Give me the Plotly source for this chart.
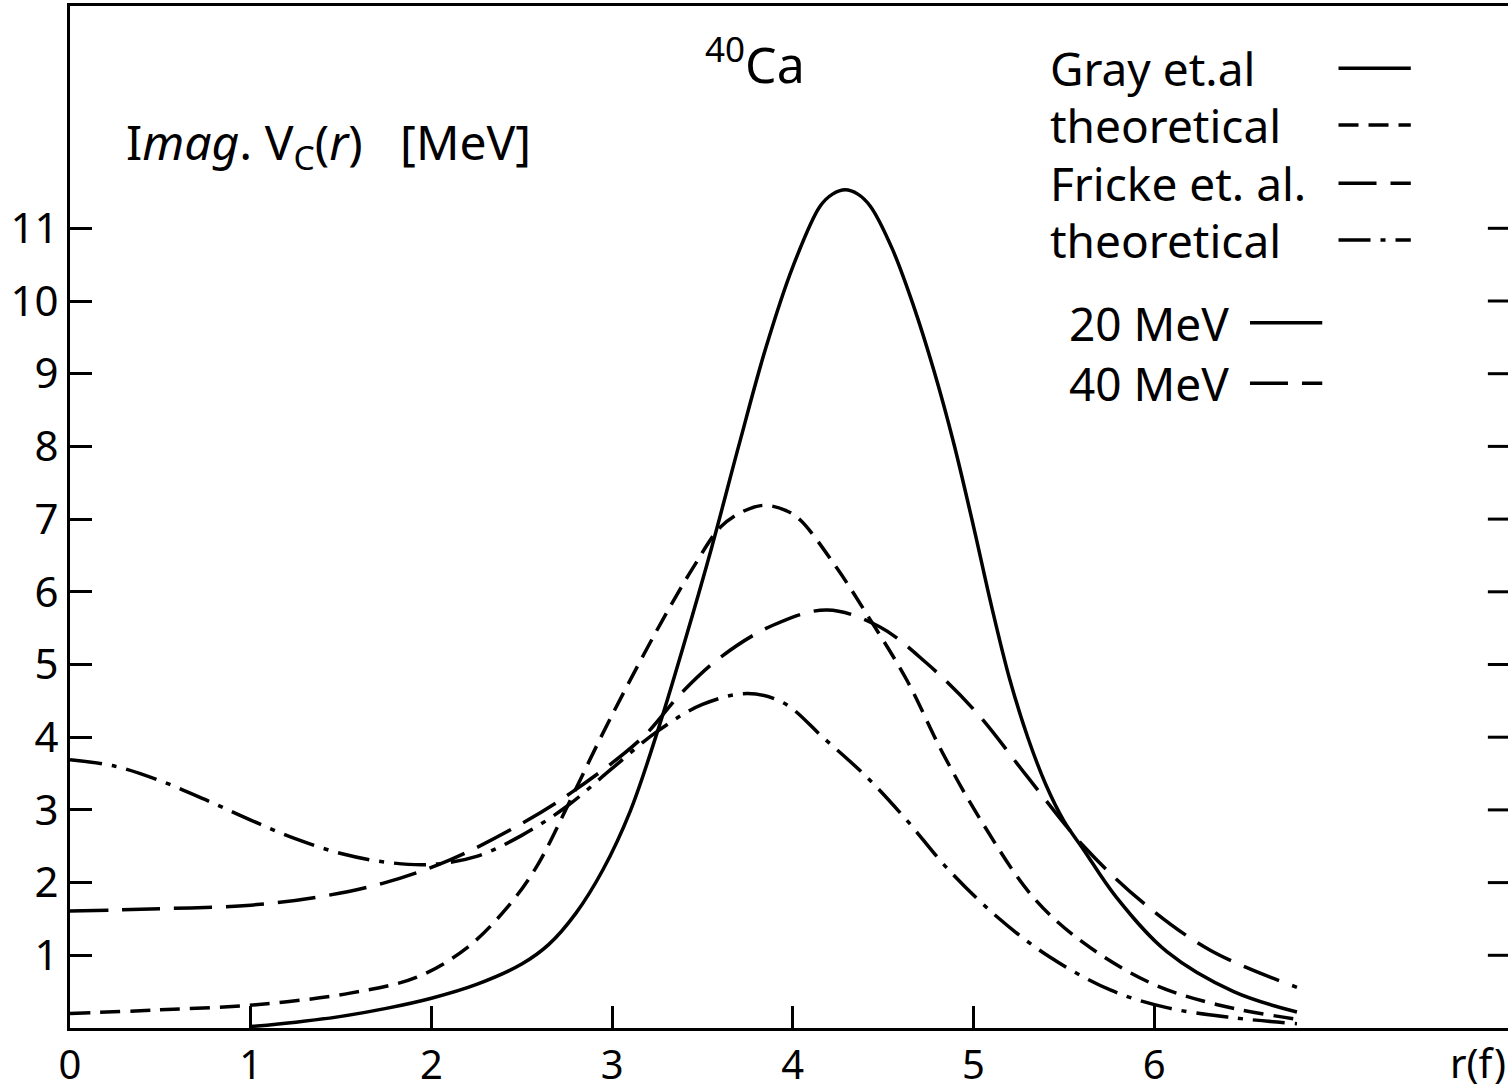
import plotly.graph_objects as go

# ---- data ----
r_gray_exp = [1.0, 1.25, 1.5, 1.75, 2.0, 2.25, 2.5, 2.65, 2.8, 2.95, 3.1, 3.25, 3.4, 3.55, 3.7, 3.85, 4.0, 4.15, 4.22, 4.29, 4.36, 4.43, 4.55, 4.67, 4.78, 4.89, 5.0, 5.1, 5.2, 5.3, 5.4, 5.5, 5.61, 5.79, 6.07, 6.44, 6.79]
v_gray_exp = [0.02, 0.08, 0.16, 0.27, 0.41, 0.6, 0.88, 1.15, 1.58, 2.18, 2.98, 4.07, 5.3, 6.6, 8.0, 9.35, 10.47, 11.3, 11.47, 11.53, 11.47, 11.3, 10.72, 9.92, 9.05, 8.05, 6.9, 5.8, 4.8, 4.0, 3.35, 2.85, 2.45, 1.8, 1.05, 0.5, 0.22]

r_gray_th = [0.0, 0.5, 1.03, 1.55, 1.92, 2.2, 2.42, 2.58, 2.77, 2.93, 3.08, 3.27, 3.45, 3.6, 3.72, 3.84, 3.96, 4.04, 4.24, 4.43, 4.63, 4.83, 5.04, 5.33, 5.61, 5.98, 6.35, 6.79]
v_gray_th = [0.2, 0.25, 0.32, 0.48, 0.7, 1.11, 1.66, 2.21, 3.14, 3.96, 4.69, 5.57, 6.34, 6.89, 7.1, 7.19, 7.12, 6.99, 6.34, 5.61, 4.79, 3.78, 2.86, 1.8, 1.17, 0.62, 0.32, 0.12]

r_fricke_exp = [0.0, 0.5, 1.0, 1.37, 1.73, 2.1, 2.47, 2.77, 3.17, 3.38, 3.6, 3.89, 4.19, 4.48, 4.74, 5.02, 5.3, 5.61, 5.94, 6.31, 6.79]
v_fricke_exp = [1.61, 1.64, 1.69, 1.8, 1.99, 2.31, 2.77, 3.23, 4.0, 4.6, 5.1, 5.54, 5.75, 5.52, 5.02, 4.33, 3.45, 2.5, 1.72, 1.07, 0.56]

r_fricke_th = [0.0, 0.25, 0.5, 0.75, 1.0, 1.25, 1.5, 1.75, 2.0, 2.25, 2.5, 2.75, 3.0, 3.25, 3.5, 3.75, 3.95, 4.17, 4.41, 4.63, 4.85, 5.13, 5.42, 5.76, 6.07, 6.44, 6.79]
v_fricke_th = [3.69, 3.6, 3.4, 3.14, 2.86, 2.6, 2.4, 2.28, 2.25, 2.36, 2.65, 3.05, 3.57, 4.08, 4.45, 4.6, 4.47, 3.99, 3.45, 2.86, 2.21, 1.53, 0.98, 0.52, 0.28, 0.14, 0.06]

x_ticks = [0, 1, 2, 3, 4, 5, 6]
x_ticklabels = ["0", "1", "2", "3", "4", "5", "6"]
y_ticks = [1, 2, 3, 4, 5, 6, 7, 8, 9, 10, 11]
y_ticklabels = ["1", "2", "3", "4", "5", "6", "7", "8", "9", "10", "11"]

legend_labels = ["Gray et.al", "theoretical", "Fricke et. al.", "theoretical"]
energy_labels = ["20 MeV", "40 MeV"]

FONT = "Noto Sans"
LW = 3.5
DASH_SHORT = "20px,10px"
DASH_LONG = "38px,14px"
DASH_DOT = "32px,10px,5px,10px"

fig = go.Figure()
series = [
    (r_gray_exp, v_gray_exp, "solid"),
    (r_gray_th, v_gray_th, DASH_SHORT),
    (r_fricke_exp, v_fricke_exp, DASH_LONG),
    (r_fricke_th, v_fricke_th, DASH_DOT),
]
for xs, ys, dash in series:
    fig.add_trace(go.Scatter(x=xs, y=ys, mode="lines",
                             line=dict(color="black", width=LW, dash=dash, shape="spline", smoothing=1.0),
                             showlegend=False, hoverinfo="skip"))

XMAX = 1438 / 180.7
YMAX = 1022 / 72.7

fig.update_layout(
    width=1508, height=1084,
    margin=dict(l=70, r=0, t=6, b=56),
    paper_bgcolor="white", plot_bgcolor="white",
    font=dict(family=FONT, color="black"),
    xaxis=dict(range=[0, XMAX], tickvals=x_ticks, ticktext=x_ticklabels,
               ticks="inside", ticklen=22, tickwidth=3, tickcolor="black",
               showline=True, linecolor="black", linewidth=3, mirror=True,
               showgrid=False, zeroline=False, tickfont=dict(size=40),
               ticklabelstandoff=0, automargin=False),
    yaxis=dict(range=[0, YMAX], tickvals=y_ticks, ticktext=y_ticklabels,
               ticks="inside", ticklen=22, tickwidth=3, tickcolor="black",
               showline=True, linecolor="black", linewidth=3,
               showgrid=False, zeroline=False, tickfont=dict(size=42),
               ticklabelstandoff=0, automargin=False),
)

# right-hand tick marks (neighbouring panel's axis ticks)
for yv in y_ticks:
    fig.add_shape(type="line", xref="paper", yref="y", x0=0.986, x1=1.0, y0=yv, y1=yv,
                  line=dict(color="black", width=3))

# titles
fig.add_annotation(x=3.79, y=13.3, xref="x", yref="y", text="<sup>40</sup>Ca",
                   showarrow=False, font=dict(size=50))
fig.add_annotation(x=0.3, y=12.15, xref="x", yref="y", xanchor="left",
                   text="I<i>mag</i>. V<sub>C</sub>(<i>r</i>)&nbsp;&nbsp;&nbsp;[MeV]",
                   showarrow=False, font=dict(size=48))
fig.add_annotation(x=1.0, y=-0.034, xref="paper", yref="paper", xanchor="right", yanchor="middle",
                   text="r(f)", showarrow=False, font=dict(size=40))

# legend block
leg_y = [13.2, 12.42, 11.62, 10.84]
leg_dash = ["solid", DASH_SHORT, DASH_LONG, DASH_DOT]
for lab, yy, dash in zip(legend_labels, leg_y, leg_dash):
    fig.add_annotation(x=5.41, y=yy, xref="x", yref="y", xanchor="left", text=lab,
                       showarrow=False, font=dict(size=46))
    fig.add_shape(type="line", xref="x", yref="y", x0=7.02, x1=7.42, y0=yy, y1=yy,
                  line=dict(color="black", width=LW, dash=dash))

en_y = [9.7, 8.87]
en_dash = ["solid", DASH_LONG]
for lab, yy, dash in zip(energy_labels, en_y, en_dash):
    fig.add_annotation(x=5.52, y=yy, xref="x", yref="y", xanchor="left", text=lab,
                       showarrow=False, font=dict(size=46))
    fig.add_shape(type="line", xref="x", yref="y", x0=6.53, x1=6.93, y0=yy, y1=yy,
                  line=dict(color="black", width=LW, dash=dash))

fig.write_html("out.html", config={"displayModeBar": False},
               post_script="document.body.style.margin='0px';")
